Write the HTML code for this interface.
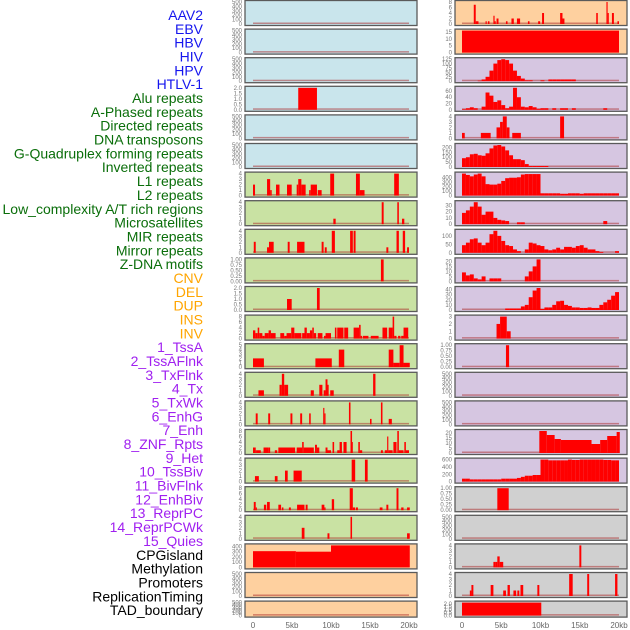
<!DOCTYPE html>
<html><head><meta charset="utf-8"><style>
html,body{margin:0;padding:0;background:#fff;width:630px;height:630px;overflow:hidden}
svg{display:block}
</style></head><body>
<svg id="chart" width="630" height="630" xmlns="http://www.w3.org/2000/svg"></svg>
<script>
const featureLabels = ["AAV2","EBV","HBV","HIV","HPV","HTLV-1","Alu repeats","A-Phased repeats","Directed repeats","DNA transposons","G-Quadruplex forming repeats","Inverted repeats","L1 repeats","L2 repeats","Low_complexity A/T rich regions","Microsatellites","MIR repeats","Mirror repeats","Z-DNA motifs","CNV","DEL","DUP","INS","INV","1_TssA","2_TssAFlnk","3_TxFlnk","4_Tx","5_TxWk","6_EnhG","7_Enh","8_ZNF_Rpts","9_Het","10_TssBiv","11_BivFlnk","12_EnhBiv","13_ReprPC","14_ReprPCWk","15_Quies","CPGisland","Methylation","Promoters","ReplicationTiming","TAD_boundary"];
const labelColors = ["#1515ee","#1515ee","#1515ee","#1515ee","#1515ee","#1515ee","#0a6e0a","#0a6e0a","#0a6e0a","#0a6e0a","#0a6e0a","#0a6e0a","#0a6e0a","#0a6e0a","#0a6e0a","#0a6e0a","#0a6e0a","#0a6e0a","#0a6e0a","#ffa500","#ffa500","#ffa500","#ffa500","#ffa500","#a020f0","#a020f0","#a020f0","#a020f0","#a020f0","#a020f0","#a020f0","#a020f0","#a020f0","#a020f0","#a020f0","#a020f0","#a020f0","#a020f0","#a020f0","#000","#000","#000","#000","#000"];
const xTickValues = [0,5,10,15,20];
const xTickLabels = ["0","5kb","10kb","15kb","20kb"];
const T500 = ["0","100","200","300","400","500"];
const T4 = ["0","1","2","3","4"];
const T8 = ["0","2","4","6","8"];
const T1 = ["0.00","0.25","0.50","0.75","1.00"];
const T2 = ["0.0","0.5","1.0","1.5","2.0"];
const leftBg = ["b","b","b","b","b","b","g","g","g","g","g","g","g","g","g","g","g","g","g","o","o","o"];
const rightBg = ["o","o","p","p","p","p","p","p","p","p","p","p","p","p","p","p","p","y","y","y","y","y"];
const leftTicks = [T500,T500,T500,T2,T500,T500,T4,T4,T4,T1,T2,T8,["0","1","2","3","4","5"],T4,T4,T8,T4,T8,T4,["0","100","200","300","400"],T500,T500];
const rightTicks = [T8,["0","5","10","15"],["0","25","50","75","100","125"],["0","20","40","60"],T4,["0","50","100","150","200"],["0","100","200","300","400"],["0","10","20","30"],["0","50","100"],["0","5","10","15","20"],["0","10","20","30","40"],["0","1","2","3"],T1,T500,T500,["0","5","10","15","20"],["0","200","400","600"],T1,T500,T4,T4,T2];
const leftBars = [
 [],[],[],
 [[5.8,8.2,2]],
 [],[],
 [[0,0.26,2],[1.8,2.2,3],[2.2,2.4,1],[2.95,3.4,2],[4.36,4.96,2],[5.6,5.8,2],[5.8,6.2,3],[6.2,6.75,2],[7.2,7.4,1],[7.4,8.2,2],[8.3,8.8,1],[9.9,10.4,4],[13.2,13.7,4],[13.7,14.3,1],[18.1,18.7,4]],
 [[10.3,10.6,1],[16.5,16.75,4],[18.5,18.7,4],[19.1,19.4,1]],
 [[0.1,0.35,2],[1.8,2.05,1],[2.05,2.65,2],[4.45,4.7,2],[5.65,6.6,2],[8.8,9.05,2],[9.2,9.45,1],[10.1,10.5,4],[12.45,12.8,4],[12.9,13.15,4],[17.1,17.35,1],[18.4,18.7,4],[19.2,19.5,4],[19.75,20,1]],
 [[16.4,16.75,1]],
 [[4.36,4.96,1],[8.2,8.55,2]],
 [[0,0.3,3],[0.3,0.6,2],[0.6,0.8,4],[0.8,1.2,2],[1.2,1.5,1],[1.5,2.0,2],[2.0,2.3,3],[2.3,2.9,2],[3.5,4.0,2],[4.0,4.3,1],[4.3,4.9,2],[4.9,5.3,4],[5.3,6.2,2],[6.3,6.6,2],[6.6,6.9,4],[6.9,7.3,2],[7.3,7.6,3],[7.6,7.8,4],[7.8,8.1,2],[8.3,8.9,2],[9.1,9.3,1],[9.3,10,2],[10.5,10.7,4],[10.8,11.6,4],[11.7,12.2,4],[12.9,13.6,4],[13.6,13.8,5],[13.8,14.0,1],[14.1,14.8,1],[15.1,16.1,1],[16.6,17.2,4],[17.4,17.9,4],[17.9,18.1,8],[18.1,18.4,1],[18.6,18.9,1],[19.0,19.3,1],[19.3,19.9,4]],
 [[0,1.4,2],[8,10.1,2],[11,11.7,4],[17.4,18,4],[18,18.8,1],[18.8,19.3,5],[19.3,20.1,1]],
 [[0.7,1.4,1],[3.4,3.7,2],[3.7,4.0,4],[4.0,4.5,2],[7.4,7.8,1],[8.5,8.9,2],[9.06,9.3,1],[9.3,9.55,3],[9.55,9.7,2],[9.9,10.35,1],[15.4,15.7,4]],
 [[0.35,0.6,2],[1.95,2.2,2],[4.8,5.05,2],[6.05,6.3,2],[7.2,7.4,2],[9.0,9.15,3],[9.15,9.3,2],[12.3,12.5,4],[15,15.2,1],[16.4,16.6,4],[17.4,17.8,1]],
 [[0,0.35,2],[0.35,0.5,1],[0.5,1.0,1],[1.35,1.95,2],[1.95,2.2,2],[2.8,3.1,1],[3.25,5.4,2],[5.6,6.3,2],[6.3,6.5,4],[6.5,7.8,2],[7.95,8.2,3],[8.2,8.5,2],[9.3,9.55,2],[9.55,10,1],[10.2,10.4,4],[10.8,11.1,1],[11.1,11.4,4],[11.6,12,4],[12.5,12.7,8],[12.7,12.8,4],[13.5,13.7,4],[13.7,14,1],[16.4,16.65,1],[16.9,17.2,1],[17.2,17.35,6],[17.35,17.9,1],[18,18.4,4],[18.5,18.7,8],[18.7,19.3,1],[19.4,19.6,4],[19.6,20,1]],
 [[0.25,0.75,1],[2.8,3.15,1],[4.1,4.45,2],[5.2,6.25,2],[12.65,13.1,4],[14.35,14.7,4]],
 [[0.1,0.35,3],[0.35,0.5,1],[1.4,1.7,2],[1.8,2.15,3],[3.25,3.6,2],[3.7,3.9,1],[4.6,4.85,1],[5.65,6.6,2],[6.75,7.0,2],[8.8,9.15,2],[9.15,9.3,1],[10.1,10.4,4],[12.4,12.8,8],[12.8,13.1,1],[13.2,13.45,1],[16.25,16.6,1],[17.1,17.35,2],[18.4,18.65,8],[19.0,19.3,1],[19.75,20.1,1]],
 [[6.25,6.6,2],[9.55,9.8,1],[12.5,12.7,4],[19.75,20.1,1]],
 [[0,5.5,310],[5.5,10,300],[10,20.1,420]],
 [],[]
];
const hivBins = [0,0,0,0,3,10,25,60,100,120,125,120,100,60,30,15,5,5,0,0,5,0,10,10,10,10,10,10,10,0,0,0,0,0,0,0,0,0,0,0];
const aluBins = [2,5,8,5,0,10,55,45,25,30,15,5,10,70,40,10,8,12,8,3,5,5,0,5,0,5,5,0,5,0,0,0,0,0,0,0,5,0,0,0];
const gquadBins = [90,100,130,135,120,115,140,190,220,225,210,170,120,80,80,70,30,10,10,10,10,10,0,0,0,0,0,0,0,0,0,0,0,0,0,0,0,0,0,0];
const invBins = [480,450,420,460,480,420,250,240,240,260,320,380,390,390,400,460,470,470,470,470,50,50,50,50,50,40,40,50,50,50,40,50,50,50,50,50,50,50,50,50];
const l1Bins = [18,22,28,35,28,15,20,20,10,7,6,5,0,0,3,3,0,0,0,0,0,0,0,0,0,0,0,0,0,0,0,0,0,0,0,0,5,0,0,0];
const l2Bins = [45,60,80,85,60,45,60,110,130,100,70,45,40,20,10,0,20,60,55,45,40,20,15,20,30,20,35,35,30,40,45,30,20,20,10,5,0,0,0,10];
const microBins = [9,6,7,3,2,5,0,3,3,3,0,0,0,0,0,0,5,10,15,22,0,0,0,0,0,0,0,0,0,0,0,0,0,0,0,0,0,0,0,0];
const mirBins = [0,0,0,0,0,0,0,0,0,0,0,3,3,3,3,7,10,25,38,43,2,5,5,10,17,18,10,8,5,5,4,4,5,4,4,10,15,20,28,35];
const tssBivBins = [80,80,60,60,60,60,60,60,60,60,80,80,80,80,100,130,160,160,180,180,600,600,580,580,580,580,580,600,590,590,600,600,600,600,600,600,590,590,580,580];
function binsToSegs(b){const s=[];b.forEach((v,i)=>{if(v>0)s.push([i*0.5,i*0.5+0.5,v]);});return s;}
const rightBars = [
 [[1.5,1.75,7],[1.75,2.1,1],[3,3.15,1],[3.3,3.5,1],[4,4.15,3],[4.15,4.3,1],[4.4,4.65,2],[5.6,5.8,1],[6.3,6.6,2],[7,7.4,2],[8.4,8.6,1],[9.7,9.95,1],[10.2,10.45,4],[12.5,12.8,4],[12.8,13.05,2],[17.1,17.3,4],[18.4,18.55,8],[18.55,18.7,4],[19.1,19.35,4],[19.8,20,1]],
 [[0,20,16]],
 binsToSegs(hivBins),
 binsToSegs(aluBins),
 [[0,0.35,1],[2.4,3.65,1],[4.4,4.85,2],[4.85,5.2,3],[5.2,5.7,4],[5.7,6.05,2],[6.4,7.5,1],[12.5,13,4]],
 binsToSegs(gquadBins),
 binsToSegs(invBins),
 binsToSegs(l1Bins),
 binsToSegs(l2Bins),
 binsToSegs(microBins),
 binsToSegs(mirBins),
 [[4.4,4.85,2],[4.85,5.7,3],[5.7,6.2,1]],
 [[5.6,6,1]],
 [],[],
 [[9.85,10.8,22],[10.8,11.8,18],[11.8,12.6,14],[12.6,16.5,13],[16.5,17.6,9],[17.6,18.5,13],[18.5,19.7,17],[19.7,20.1,21]],
 binsToSegs(tssBivBins),
 [[4.5,5.95,1]],
 [],
 [[4.0,4.25,1],[4.25,4.5,1],[4.5,4.8,2],[4.8,5.25,1],[14.95,15.2,4]],
 [[1.0,1.2,1],[1.2,1.45,2],[3.65,4.0,2],[5.25,5.6,1],[5.8,6.1,2],[6.55,6.9,1],[7.05,7.3,1],[7.45,7.8,2],[9.6,9.85,2],[13.65,14.1,4],[15.95,16.2,4],[19.5,19.8,4]],
 [[0,10.1,2.2]]
];
const NS="http://www.w3.org/2000/svg";
const svg=document.getElementById('chart');
const bgColors={b:"#c9e5ec",g:"#c9e2a3",o:"#fed09f",p:"#d6c6e1",y:"#d0d0d0"};
function mk(tag,attrs,parent){const e=document.createElementNS(NS,tag);for(const k in attrs)e.setAttribute(k,attrs[k]);(parent||svg).appendChild(e);return e;}
featureLabels.forEach((t,i)=>{
 const e=mk('text',{x:203,y:20+i*13.84,'text-anchor':'end','font-family':'Liberation Sans, sans-serif','font-size':14,fill:labelColors[i]});
 e.textContent=t;
 
 
});
function panel(side,i,ticks,bars,bg){
 const px = side==='L'?245:455, pw=172;
 const xz = side==='L'?253:462, xs = side==='L'?7.8:7.85;
 const top=0.5+i*28.6, h=(i===21?16:25);
 const g=mk('g',{});
 
 
 mk('rect',{x:px,y:top,width:pw,height:h,fill:bgColors[bg]},g);
 const lastTick=parseFloat(ticks[ticks.length-1]);
 let dmax=0;bars.forEach(b=>{if(b[2]>dmax)dmax=b[2];});
 const ymax=Math.max(lastTick,dmax);
 const yb=top+h-1.5, yt=top+1.5;
 const yOf=v=>yb-(v/ymax)*(yb-yt);
 const xOf=k=>xz+k*xs;
 const bl=mk('rect',{x:xOf(0),y:yb-1.5,width:xOf(20)-xOf(0),height:1.5,fill:"rgba(170,40,40,0.5)"},g);
 
 
 bars.forEach(b=>{
  const y=Math.max(yt-1.5,yOf(b[2]));
  const r=mk('rect',{x:xOf(b[0]),y:y,width:Math.max(0.8,xOf(b[1])-xOf(b[0])),height:yb-y,fill:"#ff0000"},g);
  
  
 });
 mk('rect',{x:px,y:top,width:pw,height:h,fill:"none",stroke:"#5a5a5a","stroke-width":1.3},g);
 ticks.forEach(t=>{
  const v=parseFloat(t);
  const e=mk('text',{x:px-3,y:yOf(v)+2,'text-anchor':'end','font-family':'Liberation Sans, sans-serif','font-size':6,fill:"#777"},g);
  e.textContent=t;
  
  
 });
}
for(let i=0;i<22;i++){panel('L',i,leftTicks[i],leftBars[i],leftBg[i]);panel('R',i,rightTicks[i],rightBars[i],rightBg[i]);}
[[253,7.8],[462,7.85]].forEach((a,j)=>{
 xTickValues.forEach((v,k)=>{
  const e=mk('text',{x:a[0]+v*a[1],y:628,'text-anchor':'middle','font-family':'Liberation Sans, sans-serif','font-size':8,fill:"#666"});
  e.textContent=xTickLabels[k];
  
  
 });
});
</script>
</body></html>
